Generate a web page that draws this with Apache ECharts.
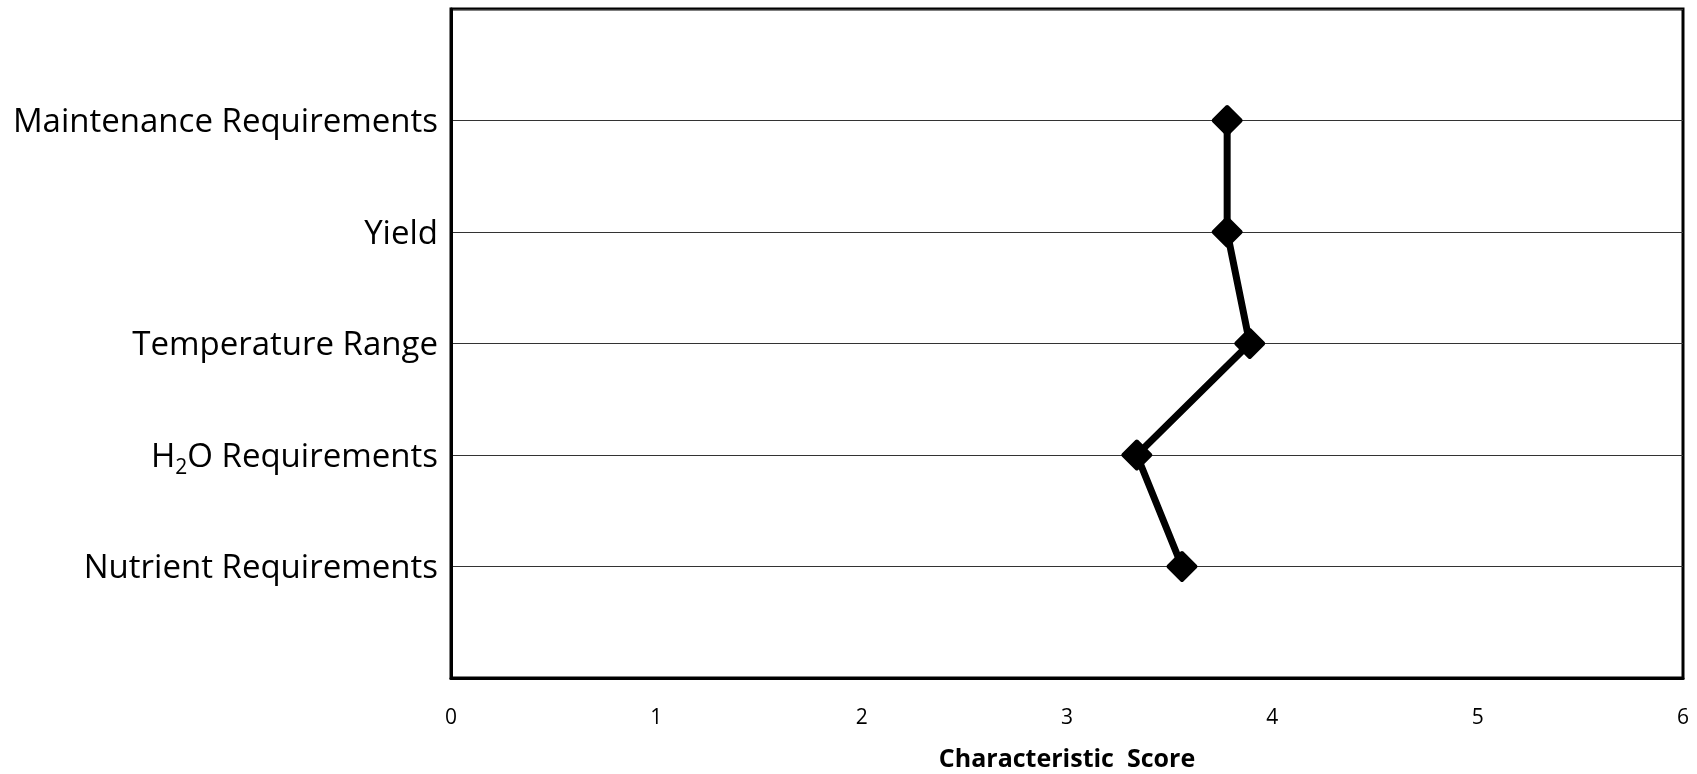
<!DOCTYPE html>
<html>
<head>
<meta charset="utf-8">
<script src="https://cdn.jsdelivr.net/npm/echarts@6/dist/echarts.min.js"></script>
<style>
  html, body { margin: 0; padding: 0; background: #fff; }
  #chart { width: 1697px; height: 774px; }
</style>
</head>
<body>
<div id="chart"></div>
<script>
// Categories bottom to top (positions 1..5 on the vertical scale)
const categories = [
  "Nutrient Requirements",
  "H2O Requirements",
  "Temperature Range",
  "Yield",
  "Maintenance Requirements"
];
const scores = [3.56, 3.34, 3.89, 3.78, 3.78];
const xTicks = [0, 1, 2, 3, 4, 5, 6];
const axisTitle = "Characteristic  Score";

const FONT = "Open Sans";

const seriesData = categories.map((c, i) => [scores[i], i + 1]);

const chart = echarts.init(document.getElementById('chart'), null, { renderer: 'canvas' });
chart.setOption({
  animation: false,
  backgroundColor: '#ffffff',
  grid: {
    show: true,
    left: 451, right: 14, top: 9, bottom: 96,
    outerBoundsMode: 'none',
    containLabel: false,
    borderColor: '#000', borderWidth: 3,
    backgroundColor: 'transparent'
  },
  xAxis: {
    type: 'value',
    min: xTicks[0], max: xTicks[xTicks.length - 1], interval: 1,
    axisLine: { show: true, lineStyle: { color: '#000', width: 3 } },
    axisTick: { show: false },
    splitLine: { show: false },
    axisLabel: {
      margin: 30, color: '#000', fontSize: 21, fontFamily: FONT,
      formatter: v => String(v)
    },
    name: axisTitle,
    nameLocation: 'middle',
    nameGap: 69,
    nameTextStyle: { color: '#000', fontSize: 25, fontWeight: 'bold', fontFamily: FONT }
  },
  yAxis: {
    type: 'value',
    min: 0, max: categories.length + 1, interval: 1,
    axisLine: { show: true, lineStyle: { color: '#000', width: 3 } },
    axisTick: { show: false },
    splitLine: { show: true, lineStyle: { color: '#333', width: 1 } },
    axisLabel: {
      margin: 13, color: '#000', fontSize: 33, fontFamily: FONT,
      padding: [5, 0, 0, 0],
      formatter: function (v) {
        const name = categories[v - 1];
        if (!name) return '';
        if (name.indexOf('H2O') === 0) {
          return '{n|H}{s|2}{n|' + name.slice(2) + '}';
        }
        return '{n|' + name + '}';
      },
      rich: {
        n: { fontSize: 33, fontFamily: FONT, color: '#000' },
        s: { fontSize: 21, fontFamily: FONT, color: '#000', padding: [22, 0, 0, 0] }
      }
    }
  },
  series: [{
    type: 'line',
    data: seriesData,
    lineStyle: { color: '#000', width: 7 },
    symbol: 'diamond',
    symbolSize: 27,
    itemStyle: { color: '#000', borderColor: '#000', borderWidth: 4, borderJoin: 'round' },
    z: 5
  }]
});
</script>
</body>
</html>
